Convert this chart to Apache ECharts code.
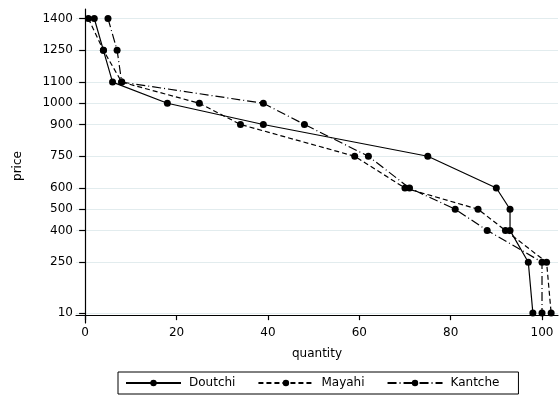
<!DOCTYPE html>
<html lang="en">
<head>
<meta charset="UTF-8">
<title>price quantity</title>
<style>
  html, body { margin: 0; padding: 0; background: #fff; }
  #main { width: 560px; height: 401px; }
</style>
<script src="https://cdn.jsdelivr.net/npm/echarts@6/dist/echarts.min.js"></script>
</head>
<body>
<div id="main"></div>
<script>
// price levels (y) and quantity per market (x)
var prices  = [1400, 1250, 1100, 1000, 900, 750, 600, 500, 400, 250, 10];
var doutchi = [2, 4, 6, 18, 39, 75, 90, 93, 93, 97, 98];
var mayahi  = [0.7, 4, 8, 25, 34, 59, 70, 86, 92, 101, 102];
var kantche = [5, 7, 8, 39, 48, 62, 71, 81, 88, 100, 100];
var xTicks  = [0, 20, 40, 60, 80, 100];
var yTicks  = [10, 250, 400, 500, 600, 750, 900, 1000, 1100, 1250, 1400];

var font = 'DejaVu Sans';

function pairs(q) {
  return q.map(function (v, i) { return [v, prices[i]]; });
}

function line(name, q, dash) {
  return {
    name: name,
    type: 'line',
    data: pairs(q),
    symbol: 'circle',
    symbolSize: 7,
    itemStyle: { color: '#000' },
    lineStyle: { color: '#000', width: 1.2, type: dash },
    emphasis: { disabled: true },
    animation: false
  };
}

var chart = echarts.init(document.getElementById('main'));
chart.setOption({
  animation: false,
  grid: { left: 76, right: 2, top: 9, bottom: 78 },
  xAxis: {
    type: 'value',
    min: -2,
    max: 103.5,
    name: 'quantity',
    nameLocation: 'middle',
    nameGap: 25,
    nameTextStyle: { color: '#000', fontFamily: font, fontSize: 12 },
    axisLine: { show: true, lineStyle: { color: '#000', width: 1.2 } },
    axisTick: { show: true, length: 5, customValues: xTicks, lineStyle: { color: '#000', width: 1.2 } },
    axisLabel: { customValues: xTicks, color: '#000', fontFamily: font, fontSize: 12, margin: 4 },
    splitLine: { show: false }
  },
  yAxis: {
    type: 'value',
    min: -37,
    max: 1445,
    name: 'price',
    nameLocation: 'middle',
    nameRotate: 90,
    nameGap: 52,
    nameTextStyle: { color: '#000', fontFamily: font, fontSize: 12 },
    axisLine: { show: true, lineStyle: { color: '#000', width: 1.2 } },
    axisTick: { show: true, length: 6, customValues: yTicks, lineStyle: { color: '#000', width: 1.2 } },
    axisLabel: {
      customValues: yTicks, color: '#000', fontFamily: font, fontSize: 12, margin: 3,
      formatter: function (v) { return String(v); }
    },
    splitLine: { show: true, lineStyle: { color: '#e2ecee', width: 1 } }
  },
  legend: {
    left: 118,
    top: 372,
    orient: 'horizontal',
    borderColor: '#000',
    borderWidth: 1,
    padding: [5, 19, 5, 7],
    itemGap: 22,
    itemWidth: 55,
    itemHeight: 8,
    textStyle: { color: '#000', fontFamily: font, fontSize: 12, padding: [0, 0, 0, 3] },
    data: ['Doutchi', 'Mayahi', 'Kantche']
  },
  series: [
    line('Doutchi', doutchi, 'solid'),
    line('Mayahi', mayahi, [5, 3]),
    line('Kantche', kantche, [9, 3, 1, 3])
  ]
});
</script>
</body>
</html>
